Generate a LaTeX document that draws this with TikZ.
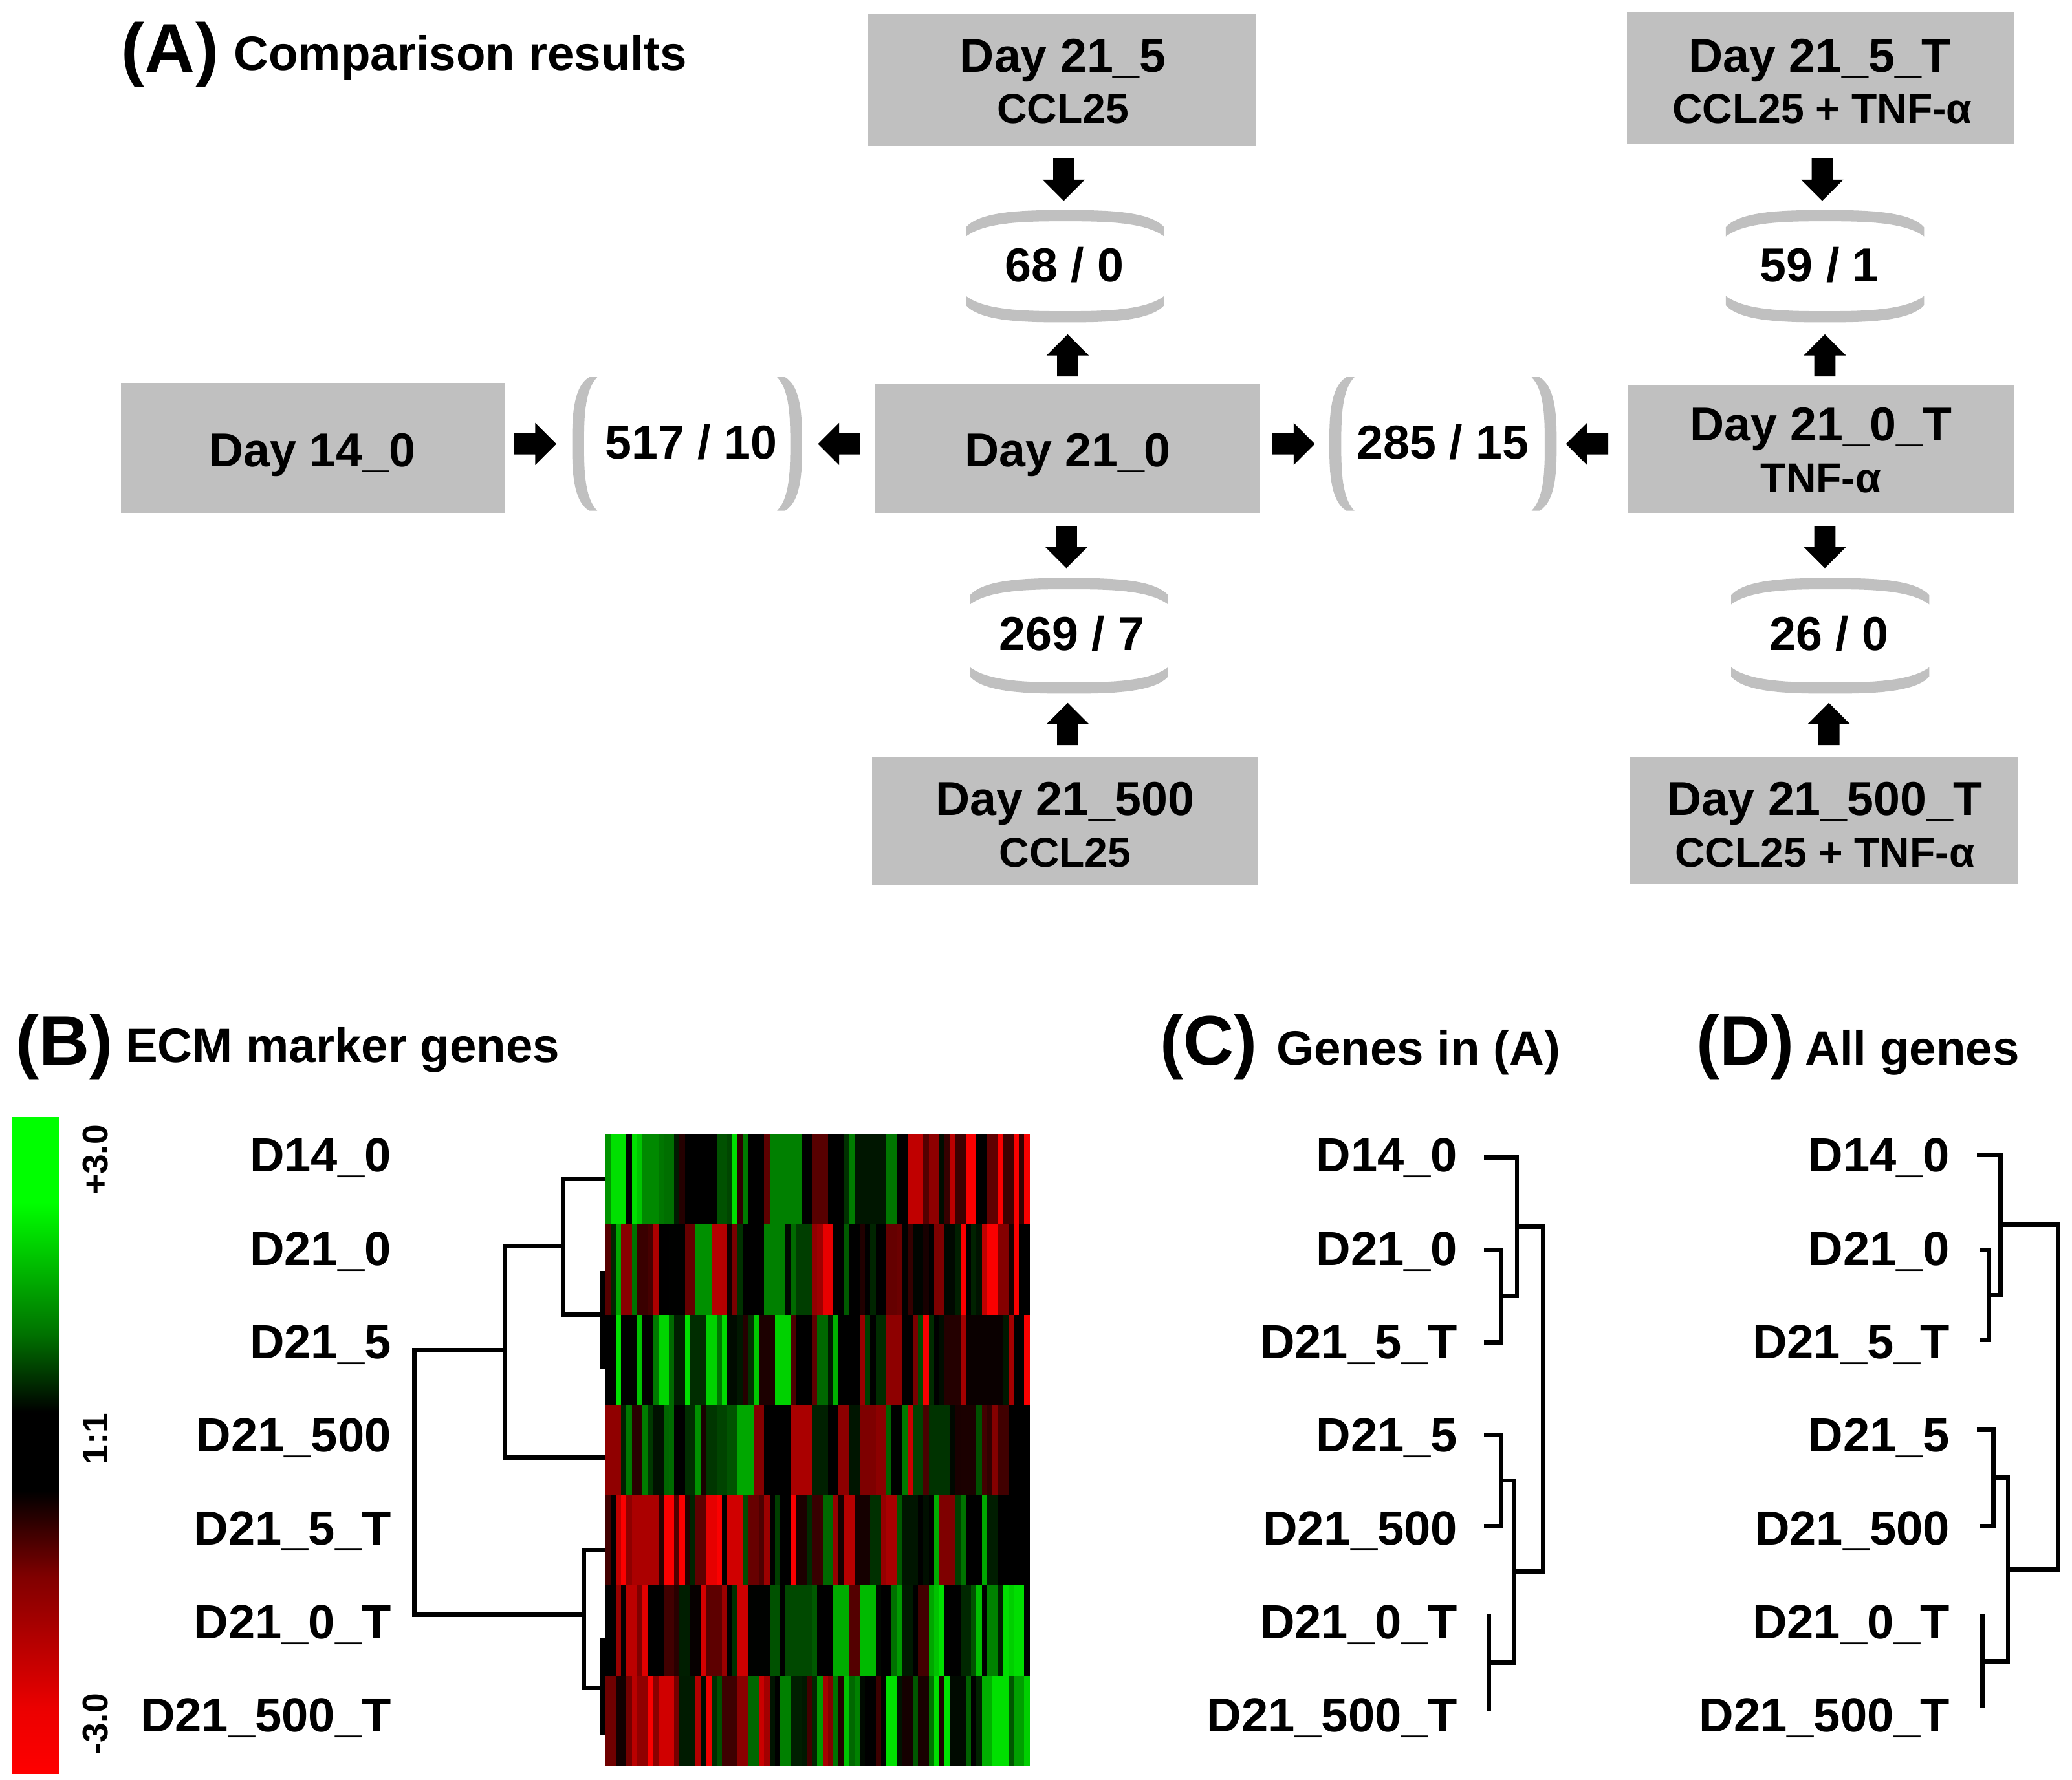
\documentclass[tikz,border=0pt]{standalone}
\usepackage{fontspec}
\setmainfont{Liberation Sans}
\usetikzlibrary{calc}
\definecolor{boxgray}{RGB}{192,192,192}
\newcommand\myfs[1]{\fontsize{#1}{#1}\selectfont\bfseries}
\pgfdeclareverticalshading{cbarshade}{100bp}{color(0bp)=(red); color(25bp)=(red); color(30bp)=(red!92!black); color(40bp)=(red!50!black); color(46.5bp)=(black); color(52.5bp)=(black); color(58.5bp)=(green!45!black); color(68.5bp)=(green); color(75bp)=(green); color(100bp)=(green)}
% horizontal bracket arc: #1 cx, #2 y of outer apex, #3 half length, #4 inward sign
\newcommand\hparen[4]{%
  \fill[boxgray] ({#1-#3},{#2+#4*13}) .. controls ({#1-0.85*#3},{#2}) and ({#1-0.35*#3},{#2}) .. ({#1},{#2})
    .. controls ({#1+0.35*#3},{#2}) and ({#1+0.85*#3},{#2}) .. ({#1+#3},{#2+#4*13})
    -- ({#1+#3},{#2+#4*20}) .. controls ({#1+0.8*#3},{#2+#4*8.5}) and ({#1+0.35*#3},{#2+#4*8.5}) .. ({#1},{#2+#4*8.5})
    .. controls ({#1-0.35*#3},{#2+#4*8.5}) and ({#1-0.8*#3},{#2+#4*8.5}) .. ({#1-#3},{#2+#4*20}) -- cycle;}
% vertical bracket: #1 x of outer apex, #2 cy, #3 half length, #4 inward sign
\newcommand\vparen[4]{%
  \fill[boxgray] ({#1+#4*13},{#2-#3}) .. controls ({#1},{#2-0.85*#3}) and ({#1},{#2-0.35*#3}) .. ({#1},{#2})
    .. controls ({#1},{#2+0.35*#3}) and ({#1},{#2+0.85*#3}) .. ({#1+#4*13},{#2+#3})
    -- ({#1+#4*19},{#2+#3}) .. controls ({#1+#4*9},{#2+0.8*#3}) and ({#1+#4*9},{#2+0.35*#3}) .. ({#1+#4*9},{#2})
    .. controls ({#1+#4*9},{#2-0.35*#3}) and ({#1+#4*9},{#2-0.8*#3}) .. ({#1+#4*19},{#2-#3}) -- cycle;}
\begin{document}
\begin{tikzpicture}[x=1pt,y=-1pt,
  every node/.style={inner sep=0pt,outer sep=0pt},
  box/.style={fill=boxgray,draw=none},
  maintxt/.style={font=\myfs{36},anchor=base},
  subtxt/.style={font=\myfs{31.5},anchor=base},
  numtxt/.style={font=\myfs{36},anchor=base},
  rowlab/.style={font=\myfs{36.3},anchor=base east},
  ptag/.style={font=\myfs{53},anchor=base west},
  ptitle/.style={font=\myfs{36.5},anchor=base west},
  dend/.style={line width=3.3pt,line join=miter},
  pics/blkarrow/.style={code={\fill (-8,0) -- (8,0) -- (8,16) -- (16,16) -- (0,32) -- (-16,16) -- (-8,16) -- cycle;}}]
\useasboundingbox (0,0) rectangle (1568,1347);

% ---------- Panel A ----------
\node[ptag] (tagA) at (92,55) {(A)};
\node[ptitle] (titA) at (177,53) {Comparison results};

\node[box,minimum width=293pt,minimum height=99pt] (d215) at (803.5,60.5) {};
\node[maintxt] (d215a) at (804.5,54.6) {Day 21\_5};
\node[subtxt] (d215b) at (804.5,93.2) {CCL25};

\node[box,minimum width=293pt,minimum height=100pt] (d215T) at (1377.5,59) {};
\node[maintxt] (d215Ta) at (1377,54.6) {Day 21\_5\_T};
\node[subtxt] (d215Tb) at (1379,93.2) {CCL25 + TNF-α};

\node[box,minimum width=290.5pt,minimum height=98pt] (d140) at (236.75,339) {};
\node[maintxt] (d140a) at (236.5,353) {Day 14\_0};

\node[box,minimum width=291pt,minimum height=97pt] (d210) at (807.5,339.5) {};
\node[maintxt] (d210a) at (808,353) {Day 21\_0};

\node[box,minimum width=292pt,minimum height=96pt] (d210T) at (1378,340) {};
\node[maintxt] (d210Ta) at (1378,333.5) {Day 21\_0\_T};
\node[subtxt] (d210Tb) at (1378,373) {TNF-α};

\node[box,minimum width=292pt,minimum height=97pt] (d2150) at (806,621.5) {};
\node[maintxt] (d2150a) at (806,617) {Day 21\_500};
\node[subtxt] (d2150b) at (806,656) {CCL25};

\node[box,minimum width=294pt,minimum height=96pt] (d2150T) at (1380,621) {};
\node[maintxt] (d2150Ta) at (1381,617) {Day 21\_500\_T};
\node[subtxt] (d2150Tb) at (1381,656) {CCL25 + TNF-α};

% comparison counts
\node[numtxt] (n680) at (805.5,213) {68 / 0};
\node[numtxt] (n591) at (1377,213) {59 / 1};
\node[numtxt] (n517) at (523,347.5) {517 / 10};
\node[numtxt] (n285) at (1092,347.5) {285 / 15};
\node[numtxt] (n269) at (811,492) {269 / 7};
\node[numtxt] (n260) at (1384,492) {26 / 0};

% grey brackets
\hparen{806}{159}{75}{1}\hparen{806}{244}{75}{-1}
\hparen{1381}{159}{75}{1}\hparen{1381}{244}{75}{-1}
\hparen{809}{437.5}{75}{1}\hparen{809}{525}{75}{-1}
\hparen{1385}{437.5}{75}{1}\hparen{1385}{525}{75}{-1}
\vparen{433}{336}{50.6}{1}\vparen{607}{336}{50.6}{-1}
\vparen{1006}{336}{50.6}{1}\vparen{1178}{336}{50.6}{-1}

% block arrows
\path (805,120) pic {blkarrow};
\path (808,285) pic[rotate=180] {blkarrow};
\path (807,398) pic {blkarrow};
\path (808,564) pic[rotate=180] {blkarrow};
\path (1379,120) pic {blkarrow};
\path (1381,285) pic[rotate=180] {blkarrow};
\path (1381,398) pic {blkarrow};
\path (1384,564) pic[rotate=180] {blkarrow};
\path (389,336) pic[rotate=90] {blkarrow};
\path (651,336) pic[rotate=-90] {blkarrow};
\path (963,336) pic[rotate=90] {blkarrow};
\path (1217,336) pic[rotate=-90] {blkarrow};

% ---------- Panel B ----------
\node[ptag] (tagB) at (12,806) {(B)};
\node[ptitle] (titB) at (95,804) {ECM marker genes};
\shade[shading=cbarshade] (9,845.5) rectangle (44.5,1342);
\node[font=\myfs{27},rotate=90] (cb1) at (72,878) {+3.0};
\node[font=\myfs{27},rotate=90] (cb2) at (72,1089) {1:1};
\node[font=\myfs{27},rotate=90] (cb3) at (72,1305) {-3.0};

\foreach \lab [count=\i from 0] in {D14\_0,D21\_0,D21\_5,D21\_500,D21\_5\_T,D21\_0\_T,D21\_500\_T}
  \node[rowlab] (b\i) at (296,{887+70.6*\i}) {\lab};

\draw[dend] (459,892) -- (426,892) -- (426,995) -- (459,995);
\draw[dend] (426,943) -- (382,943) -- (382,1103) -- (459,1103);
\draw[dend] (382,1022) -- (313.5,1022) -- (313.5,1222) -- (442,1222);
\draw[dend] (461,1173) -- (442,1173) -- (442,1277.5) -- (461,1277.5);
\draw[line width=5.5pt] (457,962) -- (457,1036);
\draw[line width=5.5pt] (457,1240) -- (457,1313);

\pgfmathsetseed{20231}
\foreach \hrow/\hbias/\hslope in {0/1.7/-3.2,1/0.2/-1.1,2/1.5/-2.6,3/0.1/-0.3,4/-1.5/2.1,5/-1.3/2.9,6/-1.3/2.8}{
  \gdef\hprev{0}
  \foreach \hcol in {0,...,79}{
    \pgfmathsetmacro\hnew{\hbias+(\hslope)*\hcol/79+1.8*rand}
    \pgfmathsetmacro\hkeep{rnd<0.4 ? 1 : 0}
    \ifdim\hkeep pt>0.5pt \edef\hv{\hprev}\else \edef\hv{\hnew}\fi
    \xdef\hprev{\hv}
    \pgfmathsetmacro\hint{max(0,min(1,(abs(\hv)-0.3)/2.0))}
    \pgfmathsetmacro\hgr{(\hv>0)*\hint*0.88}
    \pgfmathsetmacro\hre{(\hv<0)*\hint*0.98}
    \definecolor{hmcol}{rgb}{\hre,\hgr,0}
    \fill[hmcol] ({458+4.0125*\hcol},{858.5+68.29*\hrow}) rectangle ++(4.4,68.6);
  }
}

% ---------- Panel C ----------
\node[ptag] (tagC) at (878,806) {(C)};
\node[ptitle] (titC) at (966,806) {Genes in (A)};
\foreach \lab [count=\i from 0] in {D14\_0,D21\_0,D21\_5\_T,D21\_5,D21\_500,D21\_0\_T,D21\_500\_T}
  \node[rowlab] (c\i) at (1103,{887+70.6*\i}) {\lab};
\draw[dend] (1123,876) -- (1148,876) -- (1148,981) -- (1136,981);
\draw[dend] (1123,946) -- (1136,946) -- (1136,1016) -- (1123,1016);
\draw[dend] (1148,928.5) -- (1167.5,928.5) -- (1167.5,1189.5) -- (1146,1189.5);
\draw[dend] (1123,1086) -- (1136,1086) -- (1136,1155) -- (1123,1155);
\draw[dend] (1136,1120.5) -- (1146,1120.5) -- (1146,1258.5) -- (1126.5,1258.5);
\draw[dend] (1126.5,1222) -- (1126.5,1295);

% ---------- Panel D ----------
\node[ptag] (tagD) at (1284,806) {(D)};
\node[ptitle] (titD) at (1366,806) {All genes};
\foreach \lab [count=\i from 0] in {D14\_0,D21\_0,D21\_5\_T,D21\_5,D21\_500,D21\_0\_T,D21\_500\_T}
  \node[rowlab] (e\i) at (1475.5,{887+70.6*\i}) {\lab};
\draw[dend] (1496,874) -- (1514,874) -- (1514,980) -- (1505,980);
\draw[dend] (1498.5,946) -- (1505,946) -- (1505,1014) -- (1498.5,1014);
\draw[dend] (1514,927) -- (1557.5,927) -- (1557.5,1188) -- (1519.5,1188);
\draw[dend] (1496,1082) -- (1508.5,1082) -- (1508.5,1155) -- (1498.5,1155);
\draw[dend] (1508.5,1118.5) -- (1519.5,1118.5) -- (1519.5,1257.5) -- (1500,1257.5);
\draw[dend] (1500,1222) -- (1500,1293);
\end{tikzpicture}
\end{document}
